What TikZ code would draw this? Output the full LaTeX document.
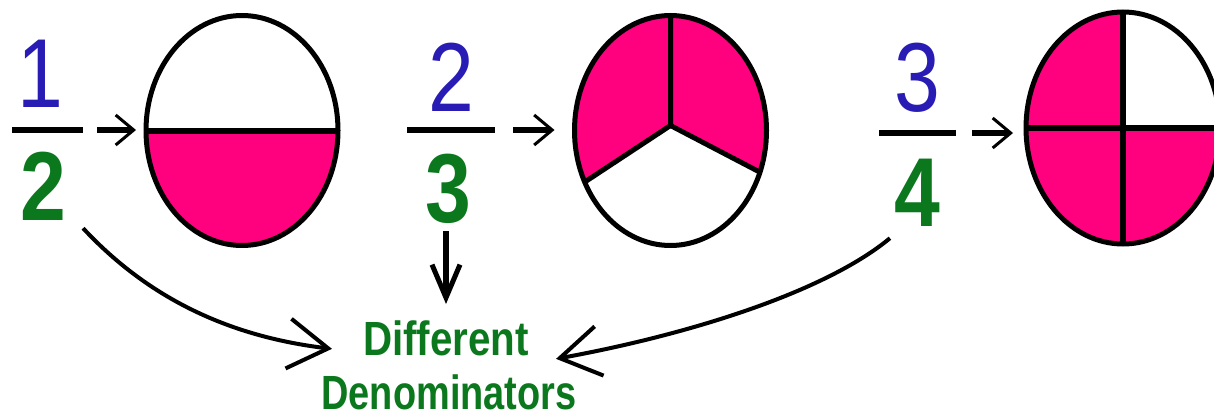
\documentclass[tikz,border=0pt]{standalone}
\usepackage{fontspec}
\setmainfont{Liberation Sans}
\usetikzlibrary{arrows.meta,shapes.geometric}
\definecolor{numblue}{RGB}{40,28,180}
\definecolor{dengreen}{RGB}{11,120,30}
\definecolor{piepink}{RGB}{255,0,127}
\tikzset{
    num/.style={text=numblue, font=\fontsize{98}{100}\selectfont, inner sep=0pt, anchor=base, xscale=0.84},
    den/.style={text=dengreen, font=\fontsize{98}{100}\selectfont\bfseries, inner sep=0pt, anchor=base, xscale=0.84},
    lbl/.style={text=dengreen, font=\fontsize{48}{50}\selectfont\bfseries, inner sep=0pt, anchor=base},
    fracbar/.style={fill=black, inner sep=0pt, minimum height=6.5pt},
    pie/.style={draw, ellipse, line width=5pt, inner sep=0pt, outer sep=0pt},
    cut/.style={line width=6pt},
    toarrow/.style={line width=6.5pt, -{Straight Barb[length=18pt,width=30pt,line width=3pt]}},
    downarrow/.style={line width=5.5pt, -{Straight Barb[length=33pt,width=28pt,line width=5pt]}},
    curvearrow/.style={line width=4pt, -{Straight Barb[length=40pt,width=50pt,line width=4pt]}}
}
\begin{document}
\begin{tikzpicture}[x=1pt, y=-1pt]
                \useasboundingbox (0,0) rectangle (1214,417);
                \coordinate (c1) at (242,130.5);
                \coordinate (c2) at (670.5,130.5);
                \coordinate (c3) at (1123,128);

                \begin{scope}
                    \clip (c1) ellipse [x radius=96, y radius=115];
                    \fill[piepink] (140,130.5) rectangle (345,250);
                \end{scope}
                \begin{scope}
                    \clip (c2) ellipse [x radius=96, y radius=115];
                    \fill[piepink] (670.5,125) -- (585,182) -- (560,182) -- (560,0) -- (780,0) -- (780,172) -- (762,172) -- cycle;
                \end{scope}
                \begin{scope}
                    \clip (c3) ellipse [x radius=97, y radius=116];
                    \fill[piepink] (1123,128) -- (1123,0) -- (1010,0) -- (1010,250) -- (1230,250) -- (1230,128) -- cycle;
                \end{scope}

                \node[pie, minimum width=192pt, minimum height=230pt] (e1) at (c1) {};
                \node[pie, minimum width=192pt, minimum height=230pt] (e2) at (c2) {};
                \node[pie, minimum width=194pt, minimum height=232pt] (e3) at (c3) {};

                \draw[cut] (e1.west) -- (e1.east);
                \draw[cut, line width=5pt] (e2.north) -- ([yshift=5pt]e2.center) -- (e2.211.5);
                \draw[cut, line width=5pt] ([yshift=5pt]e2.center) -- (e2.335.5);
                \draw[cut] (e3.north) -- (e3.south);
                \draw[cut] (e3.west) -- (e3.east);

                \node[num] (n1) at (40,107) {1};
                \node[fracbar, minimum width=71pt] (b1) at (47.5,130) {};
                \node[den] (d1) at (43,220) {2};

                \node[num] (n2) at (451,111) {2};
                \node[fracbar, minimum width=88pt] (b2) at (451,130) {};
                \node[den] (d2) at (448,222) {3};

                \node[num] (n3) at (917,112) {3};
                \node[fracbar, minimum width=77pt] (b3) at (917.5,133) {};
                \node[den] (d3) at (917,226) {4};

                \draw[toarrow, shorten <=14pt, shorten >=10pt] (b1.east) -- (b1.east -| e1.west);
                \draw[toarrow, shorten <=18pt, shorten >=20pt] (b2.east) -- (b2.east -| e2.west);
                \draw[toarrow, shorten <=16pt, shorten >=13pt] (b3.east) -- (b3.east -| e3.west);

                \node[lbl, xscale=0.84] (diff) at (446,355) {Different};
                \node[lbl, xscale=0.79] (denom) at (449,409) {Denominators};

                \draw[downarrow, shorten <=8pt, shorten >=16pt] ([xshift=-2pt]d2.south) -- ([xshift=-2pt]d2.south |- diff.north);
                \draw[curvearrow] ([shift={(17,8)}]d1.south east) .. controls +(67,72) and +(-100,-12) .. ([shift={(-31,11)}]diff.west);
                \draw[curvearrow] ([shift={(-4,12)}]d3.south west) .. controls +(-65,54) and +(132,-24) .. ([shift={(27,21)}]diff.east);
            \end{tikzpicture}
\end{document}
